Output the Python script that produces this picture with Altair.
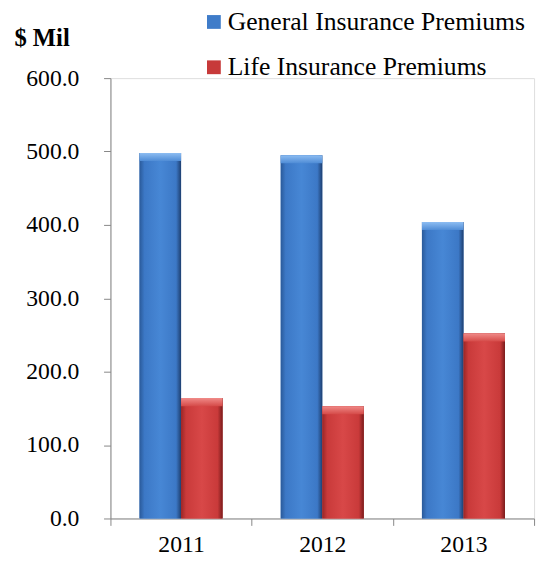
import altair as alt
import pandas as pd

years = ["2011", "2012", "2013"]
general = [498, 495, 404]
life = [164, 153, 252]
series = ["General Insurance Premiums", "Life Insurance Premiums"]
y_ticks = [0, 100, 200, 300, 400, 500, 600]

rows = []
for i, yr in enumerate(years):
    rows.append({"year": yr, "series": series[0], "value": general[i]})
    rows.append({"year": yr, "series": series[1], "value": life[i]})
df = pd.DataFrame(rows)

FONT = "Liberation Serif"
AXC = "#868686"

x = alt.X("year:N", title=None, sort=years,
          scale=alt.Scale(paddingInner=0, paddingOuter=0),
          axis=alt.Axis(labelAngle=0, tickBand="extent", tickSize=7, labelPadding=8,
                        labelFont=FONT, labelFontSize=24, labelColor="black",
                        domainColor=AXC, tickColor=AXC, grid=False))
xo = alt.XOffset("series:N", sort=series,
                 scale=alt.Scale(domain=series, paddingInner=0, paddingOuter=0.7))
y = alt.Y("value:Q", scale=alt.Scale(domain=[0, 600], nice=False),
          axis=alt.Axis(values=y_ticks, format=".1f", title="$ Mil", titleAngle=0,
                        titleAlign="left", titleBaseline="middle", titleX=-98, titleY=-41,
                        titleFont=FONT, titleFontSize=25, titleFontWeight="bold",
                        titleColor="black", tickSize=7, labelPadding=25,
                        labelFont=FONT, labelFontSize=24, labelColor="black",
                        domainColor=AXC, tickColor=AXC, grid=False))

base = alt.Chart(df).encode(x=x, xOffset=xo, y=y)

shadow = base.mark_bar(xOffset=-6, fill=alt.Gradient(
    gradient="linear", x1=0, x2=1, y1=0, y2=0,
    stops=[alt.GradientStop(offset=0, color="#ffffff"),
           alt.GradientStop(offset=0.18, color="#d4d4d4"),
           alt.GradientStop(offset=1, color="#d4d4d4")]))

solid = base.mark_bar().encode(
    color=alt.Color("series:N", sort=series,
                    scale=alt.Scale(domain=series, range=["#3F7CC9", "#C73A3A"]),
                    legend=alt.Legend(title=None, orient="none", legendX=92, legendY=-70,
                                      symbolType="square", symbolSize=196, symbolStrokeWidth=0,
                                      labelFont=FONT, labelFontSize=26, labelColor="black",
                                      labelOffset=1, labelLimit=0, rowPadding=20, padding=0))
)

def hgrad(c0, c1, c2, c3):
    return alt.Gradient(gradient="linear", x1=0, x2=1, y1=0, y2=0,
                        stops=[alt.GradientStop(offset=0, color=c0),
                               alt.GradientStop(offset=0.12, color=c1),
                               alt.GradientStop(offset=0.5, color=c2),
                               alt.GradientStop(offset=0.88, color=c1),
                               alt.GradientStop(offset=1, color=c3)])

def vgrad(c0, c1):
    return alt.Gradient(gradient="linear", x1=0, x2=0, y1=0, y2=1,
                        stops=[alt.GradientStop(offset=0, color=c0),
                               alt.GradientStop(offset=1, color=c1)])

blue = base.transform_filter(alt.datum.series == series[0]).mark_bar(
    fill=hgrad("#2A5A9A", "#3C78C6", "#4787D5", "#1E3F70"))
red = base.transform_filter(alt.datum.series == series[1]).mark_bar(
    fill=hgrad("#9A2626", "#C93A3A", "#D84848", "#7A1C1C"))

bevel = base.transform_calculate(low="datum.value - 11").encode(y2="low:Q")
blue_top = bevel.transform_filter(alt.datum.series == series[0]).mark_bar(
    fill=vgrad("#8DBDF2", "#4F8CD6"))
red_top = bevel.transform_filter(alt.datum.series == series[1]).mark_bar(
    fill=vgrad("#F08A88", "#D54A48"))

chart = alt.layer(shadow, solid, blue, red, blue_top, red_top).properties(
    width=430, height=447,
    padding={"left": 104, "top": 67, "right": 5, "bottom": 40},
    autosize=alt.AutoSizeParams(type="none"),
).configure_view(stroke=None).configure(font=FONT)

chart.save("out.html", embed_options={"renderer": "svg", "actions": False})
